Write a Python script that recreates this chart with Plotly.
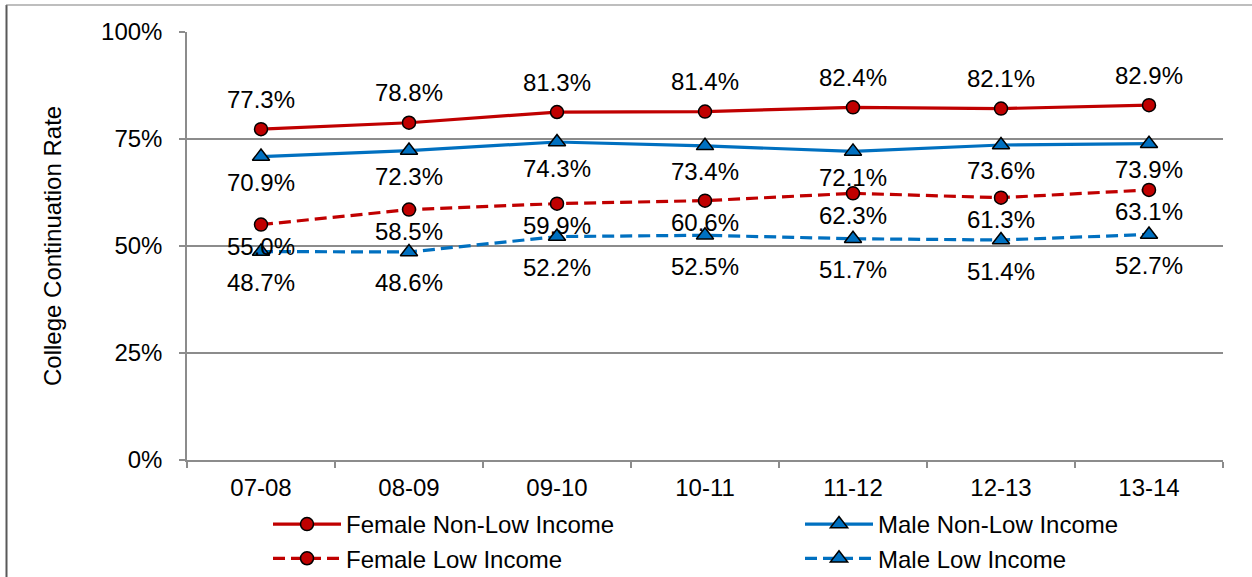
import plotly.graph_objects as go

# School years on the x axis
years = ["07-08", "08-09", "09-10", "10-11", "11-12", "12-13", "13-14"]

# College continuation rates (%) by group
female_non_low = [77.3, 78.8, 81.3, 81.4, 82.4, 82.1, 82.9]
male_non_low = [70.9, 72.3, 74.3, 73.4, 72.1, 73.6, 73.9]
female_low = [55.0, 58.5, 59.9, 60.6, 62.3, 61.3, 63.1]
male_low = [48.7, 48.6, 52.2, 52.5, 51.7, 51.4, 52.7]

y_ticks = [0, 25, 50, 75, 100]

RED = "#C00000"
BLUE = "#0070C0"
FONT = "Liberation Sans, Arial, sans-serif"
FS = 24

W, H = 1252, 577
ML, MR, MT, MB = 187, 29, 32, 117

# name, values, colour, dash, marker, marker size, label offset (px, + = below), legend
series = [
    ("Female Non-Low Income", female_non_low, RED, "solid", "circle", 13, -30, "legend"),
    ("Male Non-Low Income", male_non_low, BLUE, "solid", "triangle-up", 15, 26, "legend2"),
    ("Female Low Income", female_low, RED, "12px,6px", "circle", 13, 22, "legend"),
    ("Male Low Income", male_low, BLUE, "12px,6px", "triangle-up", 15, 31, "legend2"),
]

fig = go.Figure()
annotations = []
for name, vals, color, dash, symbol, msize, shift, leg in series:
    fig.add_trace(go.Scatter(
        x=years, y=vals, name=name, mode="lines+markers", legend=leg,
        line=dict(color=color, width=3.2, dash=dash),
        marker=dict(symbol=symbol, size=msize, color=color,
                    line=dict(color="black", width=1.5)),
    ))
    for yr, v in zip(years, vals):
        annotations.append(dict(
            x=yr, y=v, xref="x", yref="y", text=f"{v:.1f}%",
            showarrow=False, yshift=-shift,
            font=dict(family=FONT, size=FS, color="black"),
        ))

plot_w = W - ML - MR
plot_h = H - MT - MB


def px_x(p):
    return (p - ML) / plot_w


def px_y(p):
    return (H - MB - p) / plot_h


# Y axis title
annotations.append(dict(
    x=px_x(52), y=0.5, xref="paper", yref="paper", xanchor="center",
    text="College Continuation Rate", textangle=-90, showarrow=False,
    font=dict(family=FONT, size=FS, color="black"),
))

shapes = [
    # outer frame edges
    dict(type="line", xref="paper", yref="paper",
         x0=px_x(6.5), x1=px_x(6.5), y0=px_y(5), y1=px_y(H + 5),
         line=dict(color="#595959", width=2)),
    dict(type="line", xref="paper", yref="paper",
         x0=px_x(6), x1=px_x(W + 5), y0=px_y(5), y1=px_y(5),
         line=dict(color="#7f7f7f", width=1.2)),
]

legend_style = dict(
    orientation="v", xanchor="left", yanchor="top", itemwidth=68,
    font=dict(family=FONT, size=FS, color="black"),
    bgcolor="rgba(0,0,0,0)", tracegroupgap=0, traceorder="normal",
)

fig.update_layout(
    width=W, height=H,
    margin=dict(l=ML, r=MR, t=MT, b=MB, autoexpand=False),
    paper_bgcolor="white", plot_bgcolor="white",
    font=dict(family=FONT, size=FS, color="black"),
    showlegend=True,
    legend=dict(x=px_x(268), y=px_y(502), **legend_style),
    legend2=dict(x=px_x(800), y=px_y(502), **legend_style),
    annotations=annotations,
    shapes=shapes,
    xaxis=dict(
        type="category", categoryorder="array", categoryarray=years,
        range=[-0.5, len(years) - 0.5],
        showline=True, linecolor="#8c8c8c", linewidth=1.5,
        ticks="outside", tickson="boundaries", ticklen=6, tickcolor="#8c8c8c",
        tickwidth=1.5, showgrid=False, ticklabelstandoff=5,
        tickfont=dict(family=FONT, size=FS, color="black"),
    ),
    yaxis=dict(
        range=[0, 100], tickvals=y_ticks, ticktext=[f"{t}%" for t in y_ticks],
        showline=True, linecolor="#8c8c8c", linewidth=1.5,
        ticks="outside", ticklen=6, tickcolor="#8c8c8c", tickwidth=1.5,
        showgrid=True, gridcolor="#8c8c8c", gridwidth=1.5, zeroline=False,
        ticklabelstandoff=12,
        tickfont=dict(family=FONT, size=FS, color="black"),
    ),
)

fig.write_html("out.html")
